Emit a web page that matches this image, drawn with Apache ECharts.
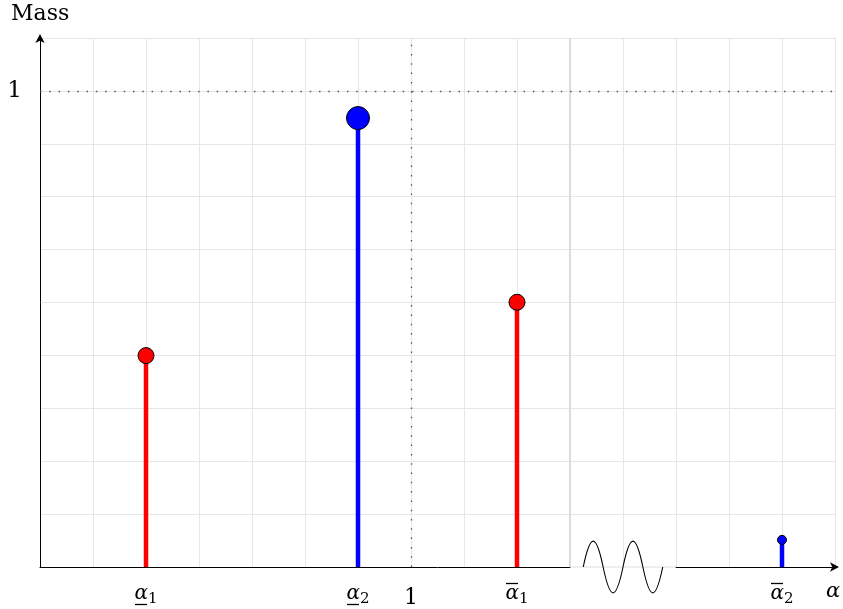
<!DOCTYPE html>
<html><head><meta charset="utf-8">
<script src="https://cdn.jsdelivr.net/npm/echarts@6/dist/echarts.min.js"></script>
<style>html,body{margin:0;padding:0;background:#fff}#c{width:843px;height:609px}</style>
</head><body><div id="c"></div>
<script>
// ---- data ----
const redX = [2, 9];            // positions (grid units) of alpha_1 lower / upper
const redMass = [0.444, 0.556];
const blueX = [6, 14];          // positions of alpha_2 lower / upper
const blueMass = [0.943, 0.057];
const xTickPos = [2, 6, 7, 9, 14];
const xTickBase = ['α', 'α', '1', 'α', 'α'];
const xTickSub = ['1', '2', '', '1', '2'];
const xTickDeco = ['under', 'under', '', 'over', 'over'];
const yTickPos = [1];
const yTickText = ['1'];
const refX = 7;   // x position of "1"
const refY = 1;   // mass 1
const breakRange = [10, 12];

const SERIF = '"DejaVu Serif", "Liberation Serif", serif';
const chart = echarts.init(document.getElementById('c'), null, {renderer: 'canvas'});

const redSize = [16, 16];
const blueSize = [23, 9];

function xLabel(v) {
  const i = xTickPos.indexOf(v);
  if (i < 0) return '';
  if (!xTickSub[i]) return '{n|' + xTickBase[i] + '}';
  const top = xTickDeco[i] === 'over' ? '{bar| }{sp| }' : '{nobar| }{sp| }';
  const bot = xTickDeco[i] === 'under' ? '{bar| }{sp| }' : '{nobar| }{sp| }';
  return top + '\n{a|' + xTickBase[i] + '}{s|' + xTickSub[i] + '}\n' + bot;
}

function stemRender(color) {
  return function (params, api) {
    const x = api.value(0), v = api.value(1);
    const p0 = api.coord([x, 0]), p1 = api.coord([x, v]);
    return {type: 'line', shape: {x1: p0[0], y1: p0[1], x2: p1[0], y2: p1[1]},
      style: {stroke: color, lineWidth: 4.5}};
  };
}

chart.setOption({
  animation: false,
  grid: {left: 40, right: 8, top: 38, bottom: 41, containLabel: false},
  xAxis: {
    type: 'value', min: 0, max: 15, interval: 1,
    axisLine: {show: true, lineStyle: {color: '#000', width: 1}, symbol: ['none', 'arrow'], symbolSize: [7, 9], symbolOffset: [0, 4]},
    axisTick: {show: false},
    splitLine: {show: true, lineStyle: {color: '#e6e6e6', width: 1}},
    axisLabel: {
      show: true, margin: 14, interval: 0,
      formatter: xLabel,
      rich: {
        a: {fontFamily: SERIF, fontStyle: 'italic', fontSize: 20, color: '#000', lineHeight: 16, height: 16},
        s: {fontFamily: SERIF, fontSize: 15, color: '#000', padding: [10, 0, 0, 0], lineHeight: 16},
        n: {fontFamily: SERIF, fontSize: 22, color: '#000', padding: [6, 0, 0, 0]},
        bar: {width: 12, height: 1.3, lineHeight: 5, backgroundColor: '#000', color: 'transparent', fontSize: 1},
        nobar: {width: 12, height: 1.3, lineHeight: 5, backgroundColor: 'transparent', color: 'transparent', fontSize: 1},
        sp: {width: 10, height: 1.3, lineHeight: 5, color: 'transparent', fontSize: 1}
      }
    }
  },
  yAxis: {
    type: 'value', min: 0, max: 10 / 9, interval: 1 / 9,
    axisLine: {show: true, lineStyle: {color: '#000', width: 1}, symbol: ['none', 'arrow'], symbolSize: [7, 9], symbolOffset: [0, 4]},
    axisTick: {show: false},
    splitLine: {show: true, lineStyle: {color: '#e6e6e6', width: 1}},
    axisLabel: {
      show: true, margin: 18,
      formatter: function (v) {
        for (let i = 0; i < yTickPos.length; i++) if (Math.abs(v - yTickPos[i]) < 1e-6) return yTickText[i];
        return '';
      },
      fontFamily: SERIF, fontSize: 23, color: '#000'
    }
  },
  graphic: [
    {type: 'text', left: 11, top: 3, style: {text: 'Mass', font: '22px ' + SERIF, fill: '#000'}},
    {type: 'text', left: 826, top: 581, style: {text: 'α', font: 'italic 21px ' + SERIF, fill: '#000'}}
  ],
  series: [
    {
      type: 'custom', name: 'break', clip: false, z: 3,
      data: [[breakRange[0], breakRange[1]]],
      renderItem: function (params, api) {
        const a = api.coord([api.value(0), 0]);
        const b = api.coord([api.value(1), 0]);
        const unit = (b[0] - a[0]) / 2;
        const ws = a[0] + unit * 0.25, we = b[0] - unit * 0.25;
        const half = (we - ws) / 4;
        const amp = half * 1.3;
        const y = a[1];
        let d = 'M' + ws + ' ' + y;
        for (let k = 0; k < 4; k++) {
          const x0 = ws + k * half, x1 = x0 + half;
          const s = (k % 2 === 0) ? -1 : 1;
          d += ' C' + (x0 + half * 0.36) + ' ' + (y + s * amp * 1.333) + ' ' + (x0 + half * 0.64) + ' ' + (y + s * amp * 1.333) + ' ' + x1 + ' ' + y;
        }
        return {type: 'group', children: [
          {type: 'line', shape: {x1: a[0] + 0.5, y1: y, x2: b[0] - 0.5, y2: y}, style: {stroke: '#fff', lineWidth: 3}},
          {type: 'line', shape: {x1: a[0], y1: y, x2: b[0], y2: y}, style: {stroke: '#dedede', lineWidth: 1.2}},
          {type: 'line', shape: {x1: a[0], y1: api.coord([0, 10 / 9])[1], x2: a[0], y2: y}, style: {stroke: '#dcdcdc', lineWidth: 2}},
          {type: 'path', shape: {pathData: d}, style: {stroke: '#000', lineWidth: 1.1, fill: null}}
        ]};
      }
    },
    {
      type: 'line', name: 'refs', data: [], silent: true, z: 2,
      markLine: {
        silent: true, symbol: 'none', label: {show: false},
        lineStyle: {type: [1.5, 7.8], color: '#555', width: 1.3},
        data: [{yAxis: refY}, {xAxis: refX}]
      }
    },
    {type: 'custom', name: 'redStem', z: 4, data: redX.map((x, i) => [x, redMass[i]]), renderItem: stemRender('#ff0000')},
    {type: 'custom', name: 'blueStem', z: 4, data: blueX.map((x, i) => [x, blueMass[i]]), renderItem: stemRender('#0000ff')},
    {type: 'scatter', name: 'red', z: 5, data: redX.map((x, i) => [x, redMass[i]]),
      symbolSize: (v, p) => redSize[p.dataIndex],
      itemStyle: {color: '#ff0000', borderColor: '#000', borderWidth: 1, opacity: 1}},
    {type: 'scatter', name: 'blue', z: 5, data: blueX.map((x, i) => [x, blueMass[i]]),
      symbolSize: (v, p) => blueSize[p.dataIndex],
      itemStyle: {color: '#0000ff', borderColor: '#000', borderWidth: 1, opacity: 1}}
  ]
});
</script></body></html>
